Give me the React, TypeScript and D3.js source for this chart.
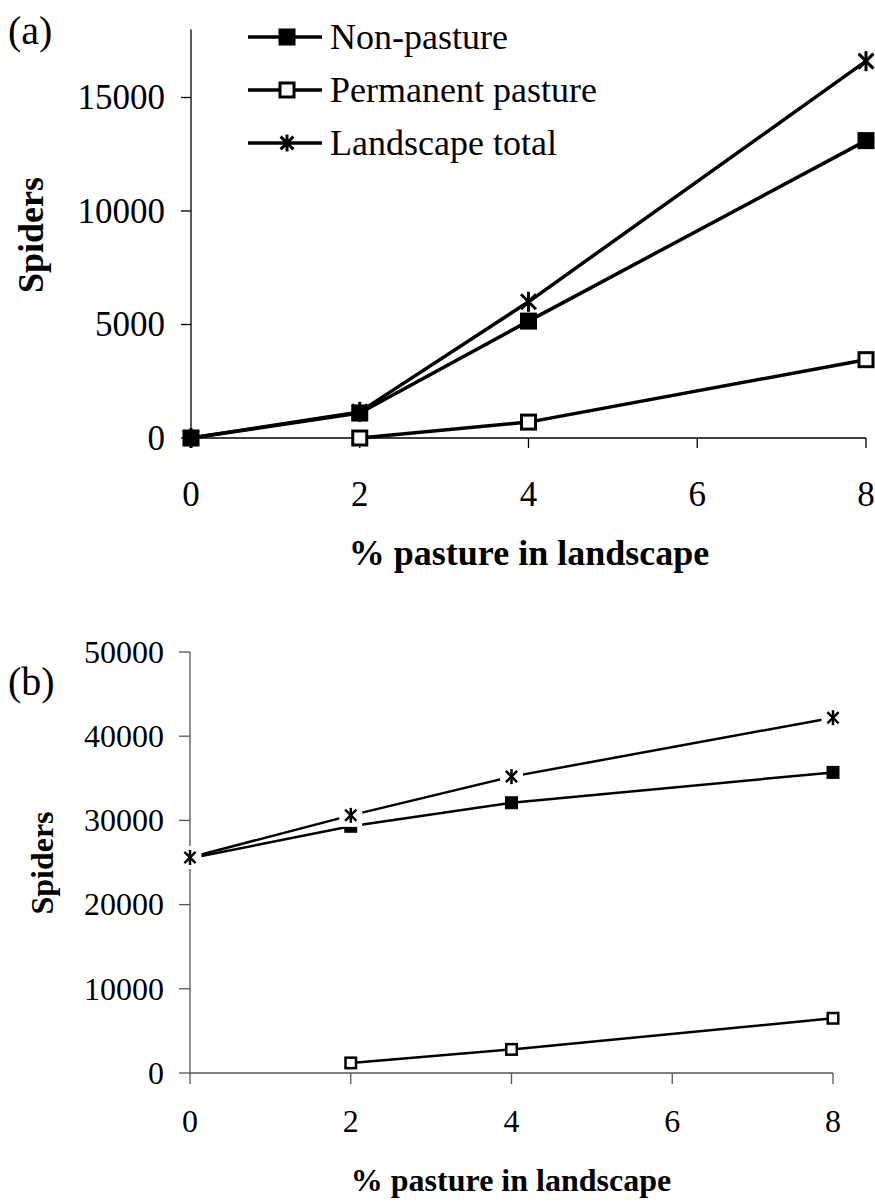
import React from "react";
import * as d3 from "d3";

const xValues = [0, 2, 4, 8];
const xTicks = [0, 2, 4, 6, 8];

const aNonPasture = [0, 1100, 5150, 13100];
const aPasture = [null, 0, 700, 3450];
const aTotal = [0, 1150, 6000, 16600];
const aYTicks = [0, 5000, 10000, 15000];

const bNonPasture = [25500, 29300, 32100, 35700];
const bPasture = [null, 1200, 2800, 6500];
const bTotal = [25600, 30600, 35200, 42200];
const bYTicks = [0, 10000, 20000, 30000, 40000, 50000];

const legendLabels = ["Non-pasture", "Permanent pasture", "Landscape total"];

const FONT = "'Liberation Serif', 'Times New Roman', serif";

type MarkerKind = "filled" | "open" | "star";

function Marker({ kind, x, y, s, sw, halo }: { kind: MarkerKind; x: number; y: number; s: number; sw: number; halo?: boolean }) {
  const h = s / 2;
  if (kind === "filled") return <rect x={x - h} y={y - h} width={s} height={s} fill="#000" />;
  if (kind === "open")
    return <rect x={x - h + sw / 2} y={y - h + sw / 2} width={s - sw} height={s - sw} fill="#fff" stroke="#000" strokeWidth={sw} />;
  return (
    <g>
      {halo && <rect x={x - h - 4} y={y - h - 4} width={s + 8} height={s + 8} fill="#fff" />}
      <line x1={x} y1={y - h} x2={x} y2={y + h} stroke="#000" strokeWidth={sw} />
      <line x1={x - h * 0.75} y1={y - h * 0.75} x2={x + h * 0.75} y2={y + h * 0.75} stroke="#000" strokeWidth={sw} />
      <line x1={x - h * 0.75} y1={y + h * 0.75} x2={x + h * 0.75} y2={y - h * 0.75} stroke="#000" strokeWidth={sw} />
    </g>
  );
}

function Panel(props: {
  label: string; labelY: number;
  x0: number; x1: number; y0: number; y1: number; yMax: number;
  yTicks: number[];
  series: { vals: (number | null)[]; kind: MarkerKind }[];
  lw: number; ms: number; starS: number; msw: number; halo: boolean;
  tickFont: number; titleFont: number;
  yLabelRight: number; xLabelBase: number; xTitleBase: number; xTitleCenter: number;
  yTitleX: number; yTitleCenter: number;
  tickLen: number; axisColor: string;
}) {
  const x = d3.scaleLinear().domain([0, 8]).range([props.x0, props.x1]);
  const y = d3.scaleLinear().domain([0, props.yMax]).range([props.y0, props.y1]);
  const line = d3.line<[number, number | null]>()
    .defined((d) => d[1] !== null)
    .x((d) => x(d[0]))
    .y((d) => y(d[1] as number));
  return (
    <g fontFamily={FONT}>
      <text x={8} y={props.labelY} fontSize={40}>{props.label}</text>
      <line x1={props.x0} y1={props.y1} x2={props.x0} y2={props.y0} stroke={props.axisColor} strokeWidth={1.3} />
      <line x1={props.x0} y1={props.y0} x2={props.x1} y2={props.y0} stroke={props.axisColor} strokeWidth={1.3} />
      {props.yTicks.map((t) => (
        <g key={"y" + t}>
          <line x1={props.x0 - props.tickLen} x2={props.x0} y1={y(t)} y2={y(t)} stroke={props.axisColor} strokeWidth={1.3} />
          <text x={props.yLabelRight} y={y(t)} dy="0.34em" textAnchor="end" fontSize={props.tickFont}>{t}</text>
        </g>
      ))}
      {xTicks.map((t) => (
        <g key={"x" + t}>
          <line x1={x(t)} x2={x(t)} y1={props.y0} y2={props.y0 + props.tickLen} stroke={props.axisColor} strokeWidth={1.3} />
          <text x={x(t)} y={props.xLabelBase} textAnchor="middle" fontSize={props.tickFont}>{t}</text>
        </g>
      ))}
      <text x={props.xTitleCenter} y={props.xTitleBase} textAnchor="middle" fontSize={props.titleFont} fontWeight="bold">% pasture in landscape</text>
      <text transform={`translate(${props.yTitleX},${props.yTitleCenter}) rotate(-90)`} textAnchor="middle" fontSize={props.titleFont} fontWeight="bold">Spiders</text>
      {props.series.map((s, i) => (
        <path key={"l" + i} d={line(xValues.map((v, j) => [v, s.vals[j]]) as [number, number | null][]) || ""}
          fill="none" stroke="#000" strokeWidth={props.lw} strokeLinejoin="round" />
      ))}
      {props.series.map((s, i) => (
        <g key={"m" + i}>
          {xValues.map((v, j) => s.vals[j] === null ? null : (
            <Marker key={j} kind={s.kind} x={x(v)} y={y(s.vals[j] as number)}
              s={s.kind === "star" ? props.starS : props.ms} sw={props.msw} halo={props.halo} />
          ))}
        </g>
      ))}
    </g>
  );
}

export default function App() {
  const legendKinds: MarkerKind[] = ["filled", "open", "star"];
  return (
    <svg width={875} height={1202} style={{ position: "absolute", left: 0, top: 0, background: "#fff" }}>
      <rect width={875} height={1202} fill="#fff" />
      <Panel label="(a)" labelY={44} x0={191} x1={866} y0={438} y1={29.4} yMax={18000} yTicks={aYTicks}
        series={[{ vals: aNonPasture, kind: "filled" }, { vals: aPasture, kind: "open" }, { vals: aTotal, kind: "star" }]}
        lw={3.5} ms={17} starS={20} msw={3} halo={false} tickFont={35} titleFont={36}
        yLabelRight={165} xLabelBase={506} xTitleBase={565} xTitleCenter={529}
        yTitleX={43} yTitleCenter={235} tickLen={10} axisColor="#000" />
      <Panel label="(b)" labelY={695} x0={190} x1={833} y0={1073} y1={652} yMax={50000} yTicks={bYTicks}
        series={[{ vals: bNonPasture, kind: "filled" }, { vals: bPasture, kind: "open" }, { vals: bTotal, kind: "star" }]}
        lw={2.5} ms={13} starS={15} msw={2.5} halo={true} tickFont={32} titleFont={32}
        yLabelRight={164} xLabelBase={1132} xTitleBase={1191} xTitleCenter={511}
        yTitleX={53} yTitleCenter={863} tickLen={11} axisColor="#555" />
      <g fontFamily={FONT}>
        {legendLabels.map((lab, i) => {
          const ly = 37 + i * 53;
          return (
            <g key={lab}>
              <line x1={248} x2={322} y1={ly} y2={ly} stroke="#000" strokeWidth={3.5} />
              <Marker kind={legendKinds[i]} x={287} y={ly} s={17} sw={3} />
              <text x={330} y={ly} dy="0.34em" fontSize={36}>{lab}</text>
            </g>
          );
        })}
      </g>
    </svg>
  );
}
